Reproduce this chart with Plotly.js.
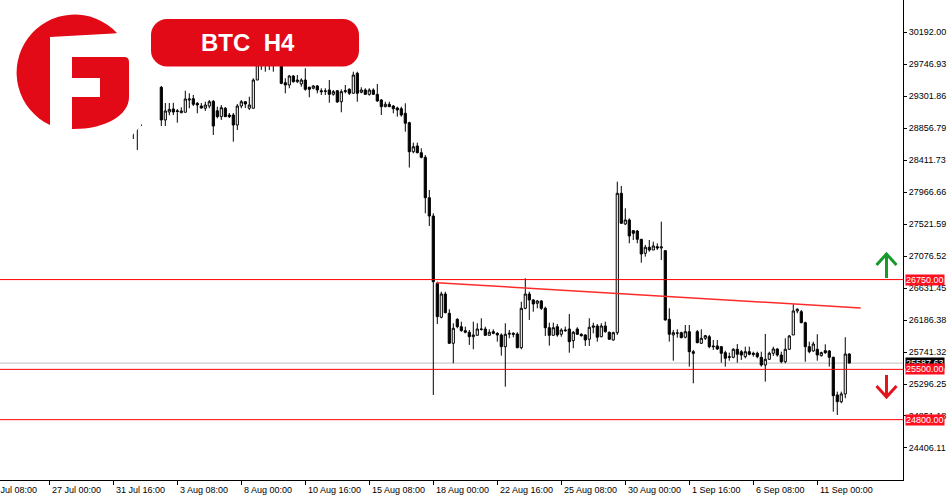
<!DOCTYPE html>
<html><head><meta charset="utf-8">
<script src="https://cdn.plot.ly/plotly-3.0.1.min.js"></script>
<style>html,body{margin:0;padding:0;background:#fff}#chart{width:950px;height:500px}</style>
</head><body><div id="chart"></div>
<script>
// ---- data ----
const firstBar = 21; // bar index of first value (bar 0 = "27 Jul 00:00")
const open = [28880,28900,29000,null,null,null,null,29427,28972,29083,
29125,29100,29073,29079,29250,29268,29204,29166,29135,29166,
29232,29100,29018,29135,29041,29041,28902,29166,29226,29135,
29135,29528,29740,29800,29760,29820,29790,29800,29491,29459,
29584,29505,29473,29528,29427,29413,29445,29379,29370,29389,
29329,29379,29226,29366,29399,29343,29622,29357,29389,29329,
29389,29329,29250,29157,29190,29166,29139,29129,29065,28934,
28530,28610,28516,28452,27890,27635,26698,26225,26549,26281,
25863,26197,26094,26039,26017,25955,25974,26062,26062,25974,
26025,26002,25979,25816,25989,26002,25993,25802,26350,26549,
26466,26420,26452,26350,26080,25974,26094,25989,26048,26062,
25900,26062,25989,25979,25919,26086,26104,25955,26104,26017,
25909,26011,27951,27524,27580,27431,27426,27311,27116,27200,
27162,27208,27190,27152,26197,25979,26002,26011,25947,26025,
25746,26025,25863,25933,25955,25826,25826,25816,25733,25677,
25668,25780,25746,25677,25746,25724,25724,25668,25561,25641,
25724,25784,25700,25607,25780,25979,26313,26303,26150,25816,
25756,25780,25691,25760,25756,25668,25144,25050,25158,25714];
const high = [28950,28980,29100,null,null,null,null,29445,29208,29208,
29212,29125,29148,29379,29343,29320,29222,29208,29226,29250,
29250,29157,29180,29153,29069,29069,29194,29250,29236,29296,
29552,29800,29880,29900,29950,29920,29900,29860,29552,29598,
29598,29598,29552,29691,29435,29459,29459,29413,29413,29528,
29389,29389,29399,29459,29413,29644,29644,29427,29413,29413,
29413,29473,29264,29226,29226,29180,29157,29157,29204,28948,
28656,28656,28578,28484,27997,27673,26721,26581,26581,26337,
26142,26211,26164,26094,26048,26164,26142,26211,26094,26058,
26058,26017,26002,26142,26048,26017,26017,26442,26768,26581,
26480,26466,26466,26373,26150,26150,26132,26072,26094,26271,
26035,26086,26002,25989,26211,26150,26132,26142,26164,26025,
26025,28113,28053,27742,27603,27440,27440,27311,27232,27301,
27278,27255,27556,27162,26350,26048,26058,26025,26118,26118,
25770,26048,26058,25979,25979,25909,25909,25826,25760,25733,
25794,25853,25770,25816,25816,25746,25746,25746,25993,25746,
25816,25794,25746,25933,25979,26406,26350,26327,26164,25886,
25886,25989,25746,25849,25770,25677,25190,25190,25947,25724];
const low = [28707,28554,28888,null,null,null,null,28888,28888,29037,
29041,28934,29065,29079,29135,29166,29065,29130,29097,29135,
28763,28995,28972,29013,28999,28670,28832,29135,29139,29111,
29135,29528,29668,29644,29668,29644,29745,29470,29343,29413,
29491,29487,29435,29379,29288,29399,29343,29320,29320,29212,
29310,29212,29079,29343,29320,29343,29226,29343,29320,29310,
29320,29226,29041,29148,29157,29065,29018,29018,28809,28310,
28508,28508,28438,27673,27496,25144,26132,26211,26281,25853,
25585,26072,26025,26002,25840,25780,25974,26039,25965,25974,
25989,25886,25691,25259,25933,25947,25794,25780,26337,26188,
26303,26350,26327,25965,25830,25974,25955,25955,26025,25732,
25794,25979,25955,25826,25826,26002,25886,25947,26011,25909,
25900,25979,27524,27510,27255,27301,27255,26985,27069,27138,
27162,27162,27023,26178,25886,25621,25941,25933,25933,25538,
25306,25863,25853,25909,25794,25770,25770,25593,25538,25621,
25654,25593,25631,25654,25696,25677,25654,25538,25329,25631,
25687,25677,25585,25585,25770,25979,26281,26142,25607,25724,
25746,25621,25677,25714,25538,24911,24865,25028,25098,25585];
const close = [28830,28860,28950,null,null,null,null,28972,29097,29120,
29083,29090,29097,29264,29264,29190,29180,29138,29180,29226,
28888,29018,29143,29018,29018,28902,29166,29226,29194,29180,
29528,29740,29800,29760,29820,29790,29800,29482,29459,29584,
29505,29528,29528,29399,29399,29445,29389,29366,29375,29329,
29366,29222,29366,29379,29343,29598,29343,29389,29329,29389,
29329,29236,29157,29190,29157,29129,29111,29041,28926,28530,
28600,28516,28452,27890,27635,26721,26234,26549,26289,25863,
26072,26094,26039,26017,25955,25979,26062,26058,25974,26017,
26002,25979,25816,25989,26002,25989,25802,26350,26549,26466,
26410,26452,26350,26080,25974,26080,25979,26048,26039,25885,
26017,25989,25970,25909,26086,26104,25947,26104,26025,25919,
26011,27951,27534,27580,27357,27394,27311,27106,27200,27162,
27218,27190,27204,26188,25989,26011,26007,25941,26025,25746,
25724,25872,25933,25969,25816,25816,25784,25724,25654,25668,
25780,25710,25700,25746,25710,25710,25677,25561,25641,25724,
25784,25700,25607,25780,25965,26313,26337,26150,25816,25746,
25853,25700,25733,25733,25668,25134,25050,25158,25714,25587.63];

const xTickBars = [-16,0,16,32,48,64,80,96,112,128,144,160,176,192];
const xTickLabels = ["24 Jul 08:00","27 Jul 00:00","31 Jul 16:00","3 Aug 08:00","8 Aug 00:00","10 Aug 16:00","15 Aug 08:00","18 Aug 00:00","22 Aug 16:00","25 Aug 08:00","30 Aug 00:00","1 Sep 16:00","6 Sep 08:00","11 Sep 00:00"];
const yTickVals = [30192.00,29746.93,29301.86,28856.79,28411.73,27966.66,27521.59,27076.52,26631.45,26186.38,25741.32,25296.25,24851.18,24406.11];
const yTickText = ["30192.00","29746.93","29301.86","28856.79","28411.73","27966.66","27521.59","27076.52","26631.45","26186.38","25741.32","25296.25","24851.18","24406.11"];
const levels = [26750, 25500, 24800];
const levelText = ["26750.00","25500.00","24800.00"];
const lastPrice = 25587.63;
const trendBars = [96.85, 202.85];
const trendPrices = [26707, 26355];
const titleText = "BTC\u00A0\u00A0H4";

// ---- layout helpers ----
const W = 950, H = 500, ML = 0, MR = 47, MT = 0, MB = 20;
const PW = W - ML - MR, PH = H - MT - MB;
const xRange = [-12.33, 213.43];
const yRange = [23960, 30642];
const px = v => v / PW;            // pixel x -> paper
const py = v => 1 - v / PH;        // pixel y -> paper
const barToPaper = b => (b - xRange[0]) / (xRange[1] - xRange[0]);

const xs = open.map((_, k) => firstBar + k);

const trace = {
  type: 'candlestick', x: xs, open: open, high: high, low: low, close: close,
  increasing: {line: {color: '#000', width: 1}, fillcolor: '#ffffff'},
  decreasing: {line: {color: '#000', width: 1}, fillcolor: '#000000'},
  whiskerwidth: 0, hoverinfo: 'none', showlegend: false
};

const red = '#e30a17';
const svg = `<svg xmlns="http://www.w3.org/2000/svg" width="370" height="170" viewBox="0 0 370 170" preserveAspectRatio="none">
<circle cx="70" cy="70" r="90" fill="#ffffff"/>
<path d="M117 33 A58 58 0 1 0 50 125.1 L50 37 L113 33.5 Q117 33 117 33 Z" fill="${red}"/>
<path d="M72 57 L124 57 Q129 57 129 62 L129 97 C129 116 104 129.5 72 129 L72 97 L100 97 L100 78 L72 78 Z" fill="${red}"/>
<rect x="151" y="19" width="208" height="47.5" rx="16" ry="16" fill="${red}"/>
</svg>`;
const svgUri = 'data:image/svg+xml;base64,' + btoa(svg);

const shapes = [];
levels.forEach(v => shapes.push({type: 'line', xref: 'paper', x0: 0, x1: 1, yref: 'y', y0: v, y1: v, line: {color: '#ff0000', width: 1}, layer: 'above'}));
shapes.push({type: 'line', xref: 'paper', x0: 0, x1: 1, yref: 'y', y0: lastPrice, y1: lastPrice, line: {color: '#c0c0c0', width: 1}, layer: 'below'});
shapes.push({type: 'line', xref: 'x', yref: 'y', x0: trendBars[0], x1: trendBars[1], y0: trendPrices[0], y1: trendPrices[1], line: {color: '#ff2b2b', width: 1.5}, layer: 'above'});
// arrows
const green = '#169a2a', ared = '#e3141e';
function arrow(x, yTip, yTail, headY, col) {
  shapes.push({type: 'line', xref: 'paper', yref: 'paper', x0: px(x), x1: px(x), y0: py(yTip), y1: py(yTail), line: {color: col, width: 3}});
  shapes.push({type: 'path', xref: 'paper', yref: 'paper',
    path: `M ${px(x - 10)} ${py(headY)} L ${px(x)} ${py(yTip)} L ${px(x + 10)} ${py(headY)}`,
    line: {color: col, width: 3}});
}
arrow(886.5, 254, 278, 265, green);
arrow(886.5, 397, 375, 386, ared);

const annotations = [];
xTickBars.forEach((b, k) => annotations.push({
  xref: 'paper', x: barToPaper(b), xanchor: 'left', xshift: 1,
  yref: 'paper', y: 0, yanchor: 'top', yshift: -3,
  text: xTickLabels[k], showarrow: false,
  font: {family: 'Liberation Sans, Arial, sans-serif', size: 9, color: '#000'}
}));
annotations.push({xref: 'paper', x: 1, xanchor: 'left', xshift: 2, yref: 'y', y: lastPrice, yanchor: 'middle',
  text: lastPrice.toFixed(2), showarrow: false, bgcolor: '#000000', borderpad: 0,
  font: {family: 'Liberation Sans, Arial, sans-serif', size: 9, color: '#ffffff'}});
levels.forEach((v, k) => annotations.push({xref: 'paper', x: 1, xanchor: 'left', xshift: 2, yref: 'y', y: v, yanchor: 'middle',
  text: levelText[k], showarrow: false, bgcolor: '#ff0f1f', borderpad: 0,
  font: {family: 'Liberation Sans, Arial, sans-serif', size: 9, color: '#ffffff'}}));
annotations.push({xref: 'paper', yref: 'paper', x: px(247.5), y: py(42.5), xanchor: 'center', yanchor: 'middle',
  text: titleText, showarrow: false,
  font: {family: 'Liberation Sans, Arial, sans-serif', size: 24, weight: 'bold', color: '#ffffff'}});

const layout = {
  width: W, height: H, margin: {l: ML, r: MR, t: MT, b: MB, pad: 0},
  paper_bgcolor: '#ffffff', plot_bgcolor: '#ffffff',
  showlegend: false, boxgap: 0.22,
  xaxis: {range: xRange, type: 'linear', showgrid: false, zeroline: false, showline: true, linecolor: '#000', linewidth: 1,
    ticks: 'outside', ticklen: 4, tickcolor: '#000', tickvals: xTickBars, showticklabels: false,
    rangeslider: {visible: false}, fixedrange: true},
  yaxis: {range: yRange, side: 'right', showgrid: false, zeroline: false, showline: true, linecolor: '#000', linewidth: 1,
    ticks: 'outside', ticklen: 3, tickcolor: '#000', tickvals: yTickVals, ticktext: yTickText,
    tickfont: {family: 'Liberation Sans, Arial, sans-serif', size: 9, color: '#000'}, fixedrange: true},
  shapes: shapes,
  annotations: annotations,
  images: [{source: svgUri, xref: 'paper', yref: 'paper', x: 0, y: 1, sizex: 370 / PW, sizey: 170 / PH,
    xanchor: 'left', yanchor: 'top', sizing: 'stretch', layer: 'above'}]
};

Plotly.newPlot('chart', [trace], layout, {staticPlot: true, displayModeBar: false});
</script>
</body></html>
